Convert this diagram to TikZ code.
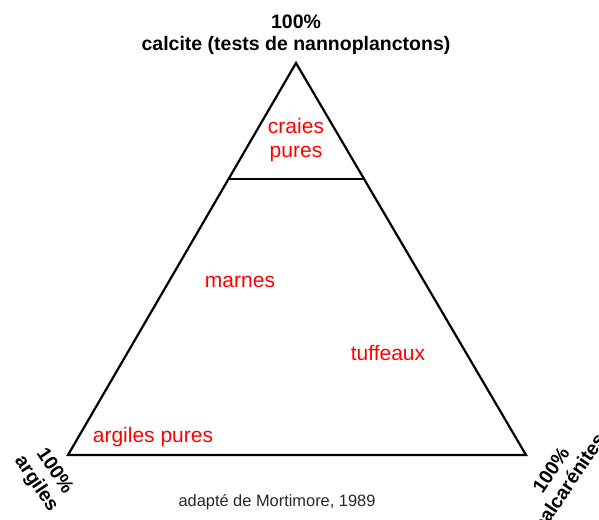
\documentclass[tikz,border=0pt]{standalone}
\usepackage{fontspec}
\setmainfont{Liberation Sans}
\begin{document}
\begin{tikzpicture}[x=1pt,y=-1pt,
  edge/.style={line width=2.2pt,line join=miter},
  redlbl/.style={text=red,font=\fontsize{21}{24}\selectfont,align=center,inner sep=0pt},
  corner/.style={font=\bfseries\fontsize{19.5}{22}\selectfont,align=center,inner sep=0pt}]
\useasboundingbox (0,0) rectangle (599,519);
\coordinate (A) at (296,63);
\coordinate (L) at (68,455);
\coordinate (R) at (526,455);
\draw[edge] (A) -- (L) -- (R) -- cycle;
\coordinate (h1) at (229,179);
\coordinate (h2) at (364,179);
\draw[edge] (h1) -- (h2);
\node[corner] (top) at (296,35) {100\%\\calcite (tests de nannoplanctons)};
\node[corner,rotate=-56] (lft) at (45,478) {100\%\\argiles};
\node[corner,rotate=56] (rgt) at (560,476) {100\%\\calcarénites};
\node[redlbl] (craies) at (296,140) {craies\\pures};
\node[redlbl] (marnes) at (240,282) {marnes};
\node[redlbl] (tuff) at (388,353) {tuffeaux};
\node[redlbl] (arg) at (153,437) {argiles pures};
\node[text=black!85,font=\fontsize{16.4}{19}\selectfont,inner sep=0pt] (src) at (277,502) {adapté de Mortimore, 1989};
\end{tikzpicture}
\end{document}
